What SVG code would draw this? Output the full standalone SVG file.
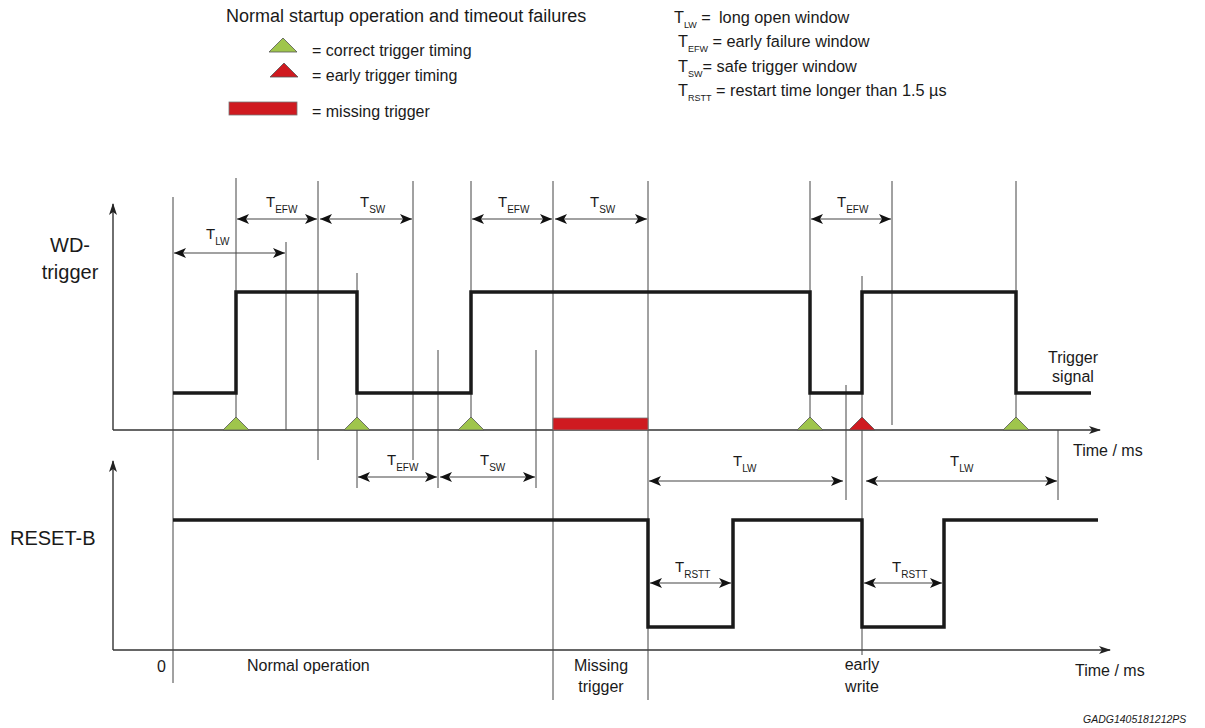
<svg xmlns="http://www.w3.org/2000/svg" width="1205" height="728" viewBox="0 0 1205 728">
<defs>
<style>
text{font-family:"Liberation Sans",Arial,sans-serif;fill:#1a1a1a}
.t18{font-size:18px}
.t16{font-size:16px}
.t20{font-size:20px}
.rl{font-size:16.3px}
.lbl{font-size:15px}
.sub{font-size:10px}
.lsub{font-size:9px}
.guide{stroke:#444;stroke-width:1;fill:none}
.dim{stroke:#444;stroke-width:1.2;fill:none;marker-start:url(#ah);marker-end:url(#ah)}
.axis{stroke:#333;stroke-width:1.4;fill:none;marker-end:url(#ax)}
.sig{stroke:#1a1a1a;stroke-width:3.5;fill:none;stroke-linejoin:miter}
.ok{fill:#9fc54c;stroke:#555;stroke-width:0.8}
.bad{fill:#cf1a20;stroke:#555;stroke-width:0.8}
.miss{fill:#cf1a20;stroke:#777;stroke-width:0.8}
</style>
<marker id="ah" markerUnits="userSpaceOnUse" markerWidth="14" markerHeight="12" refX="12" refY="5" orient="auto-start-reverse">
<path d="M0,0 L12,5 L0,10 L3,5 Z" fill="#111"/>
</marker>
<marker id="ax" markerUnits="userSpaceOnUse" markerWidth="14" markerHeight="10" refX="11" refY="4" orient="auto">
<path d="M0,0 L12,4 L0,8 L3,4 Z" fill="#222"/>
</marker>
</defs>
<rect width="1205" height="728" fill="#fff"/>

<g id="legend-left">
<text class="t18" x="226" y="22">Normal startup operation and timeout failures</text>
<polygon class="ok" points="269,52 297,52 283,38"/>
<text class="t16" x="312" y="56">= correct trigger timing</text>
<polygon class="bad" points="270,77 298,77 284,63"/>
<text class="t16" x="312" y="81">= early trigger timing</text>
<rect class="miss" x="229" y="102" width="68" height="13"/>
<text class="t16" x="312" y="117">= missing trigger</text>
</g>

<g id="legend-right">
<text class="rl" x="674" y="23">T<tspan class="lsub" dy="5">LW</tspan><tspan dy="-5"> = </tspan></text>
<text class="rl" x="719" y="23">long open window</text>
<text class="rl" x="678" y="47">T<tspan class="lsub" dy="5">EFW</tspan><tspan dy="-5"> = early failure window</tspan></text>
<text class="rl" x="678" y="72">T<tspan class="lsub" dy="5">SW</tspan><tspan dy="-5">= safe trigger window</tspan></text>
<text class="rl" x="678" y="96">T<tspan class="lsub" dy="5">RSTT</tspan><tspan dy="-5"> = restart time longer than 1.5 µs</tspan></text>
</g>

<g id="axes">
<path class="axis" d="M113,430 V204"/>
<path class="axis" d="M113,430 H1100"/>
<path class="axis" d="M113,650 V461"/>
<path class="axis" d="M113,650 H1110"/>
</g>

<g id="guides">
<path class="guide" d="M173,197 V683"/>
<path class="guide" d="M236,178 V430"/>
<path class="guide" d="M286,242 V430"/>
<path class="guide" d="M318,181 V460"/>
<path class="guide" d="M357,273 V488"/>
<path class="guide" d="M413,181 V460"/>
<path class="guide" d="M438,350 V488"/>
<path class="guide" d="M471,181 V430"/>
<path class="guide" d="M536,350 V488"/>
<path class="guide" d="M553,181 V700"/>
<path class="guide" d="M648,181 V700"/>
<path class="guide" d="M810,181 V430"/>
<path class="guide" d="M846,385 V500"/>
<path class="guide" d="M862,276 V655"/>
<path class="guide" d="M892,181 V425"/>
<path class="guide" d="M1016,181 V430"/>
<path class="guide" d="M1058,430 V500"/>
</g>

<g id="wd-trigger">
<text class="t20" x="70" y="252" text-anchor="middle">WD-</text>
<text class="t20" x="70" y="279" text-anchor="middle">trigger</text>
<path class="sig" d="M173,393 H236 V292 H357 V393 H471 V292 H810 V393 H862 V292 H1016 V393 H1091"/>
<text class="t16" x="1073" y="363" text-anchor="middle">Trigger</text>
<text class="t16" x="1073" y="382" text-anchor="middle">signal</text>
<text class="t16" x="1073" y="456">Time / ms</text>
</g>

<g id="markers">
<polygon class="ok" points="223,430 249,430 236,417"/>
<polygon class="ok" points="344,430 370,430 357,417"/>
<polygon class="ok" points="458,430 484,430 471,417"/>
<polygon class="ok" points="797,430 823,430 810,417"/>
<polygon class="bad" points="849,430 875,430 862,417"/>
<polygon class="ok" points="1003,430 1029,430 1016,417"/>
<rect class="miss" x="553" y="418" width="95" height="12"/>
</g>

<g id="reset-b">
<text class="t20" x="10" y="545">RESET-B</text>
<path class="sig" d="M173,520 H648 V627 H733 V520 H862 V627 H944 V520 H1098"/>
<text class="t16" x="1075" y="676">Time / ms</text>
<text class="t16" x="157" y="672">0</text>
<text class="t16" x="247" y="671">Normal operation</text>
<text class="t16" x="601" y="671" text-anchor="middle">Missing</text>
<text class="t16" x="601" y="692" text-anchor="middle">trigger</text>
<text class="t16" x="862" y="670" text-anchor="middle">early</text>
<text class="t16" x="862" y="692" text-anchor="middle">write</text>
</g>

<g id="connectors">
<path class="dim" d="M174,253 H285"/>
<path class="dim" d="M237,219 H317"/>
<path class="dim" d="M320,219 H412"/>
<path class="dim" d="M472,219 H552"/>
<path class="dim" d="M555,219 H647"/>
<path class="dim" d="M811,219 H891"/>
<path class="dim" d="M358,477 H437"/>
<path class="dim" d="M440,477 H535"/>
<path class="dim" d="M649,481 H843"/>
<path class="dim" d="M866,481 H1057"/>
<path class="dim" d="M650,583 H731"/>
<path class="dim" d="M864,583 H942"/>
</g>

<g id="dim-labels">
<text class="lbl" x="206" y="239">T<tspan class="sub" dy="6">LW</tspan></text>
<text class="lbl" x="266" y="207">T<tspan class="sub" dy="6">EFW</tspan></text>
<text class="lbl" x="360" y="207">T<tspan class="sub" dy="6">SW</tspan></text>
<text class="lbl" x="498" y="207">T<tspan class="sub" dy="6">EFW</tspan></text>
<text class="lbl" x="590" y="207">T<tspan class="sub" dy="6">SW</tspan></text>
<text class="lbl" x="837" y="207">T<tspan class="sub" dy="6">EFW</tspan></text>
<text class="lbl" x="387" y="465">T<tspan class="sub" dy="6">EFW</tspan></text>
<text class="lbl" x="480" y="465">T<tspan class="sub" dy="6">SW</tspan></text>
<text class="lbl" x="733" y="466">T<tspan class="sub" dy="6">LW</tspan></text>
<text class="lbl" x="950" y="466">T<tspan class="sub" dy="6">LW</tspan></text>
<text class="lbl" x="675" y="572">T<tspan class="sub" dy="6">RSTT</tspan></text>
<text class="lbl" x="892" y="572">T<tspan class="sub" dy="6">RSTT</tspan></text>
</g>

<text x="1083" y="723" style="font-size:10.5px;font-style:italic">GADG1405181212PS</text>
</svg>
